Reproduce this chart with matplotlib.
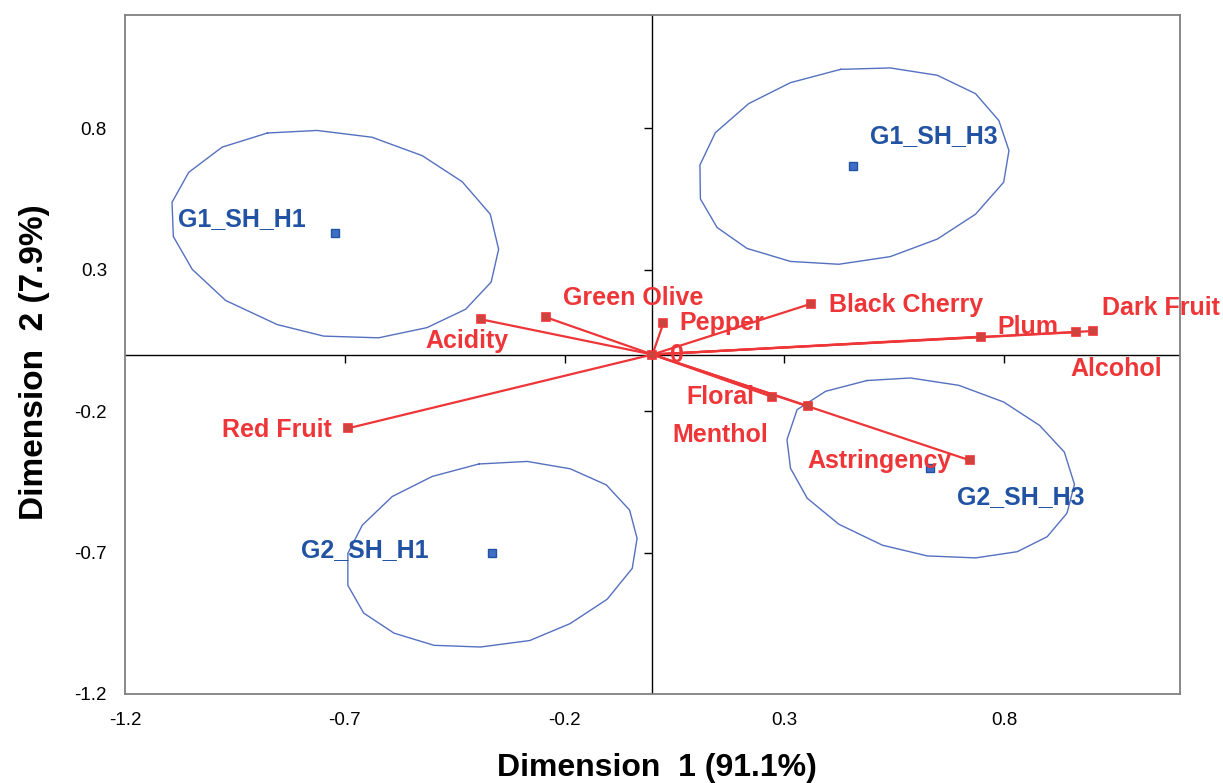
import numpy as np
import matplotlib
matplotlib.use("Agg")
import matplotlib.pyplot as plt

plt.rcParams['font.family'] = ['Liberation Sans', 'DejaVu Sans']

# attribute vectors (red)
attr_names = ["Acidity", "Green Olive", "Pepper", "Black Cherry", "Plum", "Alcohol",
              "Dark Fruit", "Floral", "Menthol", "Astringency", "Red Fruit", "0"]
attr_x = [-0.389, -0.243, 0.025, 0.360, 0.747, 0.964, 1.002, 0.273, 0.353, 0.722, -0.693, 0.0]
attr_y = [0.124, 0.132, 0.112, 0.179, 0.063, 0.079, 0.083, -0.150, -0.182, -0.374, -0.261, 0.0]
attr_lx = [-0.422, -0.045, 0.158, 0.576, 0.853, 1.055, 1.157, 0.155, 0.155, 0.517, -0.855, 0.055]
attr_ly = [0.046, 0.199, 0.113, 0.174, 0.096, -0.053, 0.163, -0.149, -0.284, -0.376, -0.266, 0.0]

# products (blue)
prod_names = ["G1_SH_H1", "G1_SH_H3", "G2_SH_H1", "G2_SH_H3"]
prod_x = [-0.722, 0.456, -0.366, 0.632]
prod_y = [0.430, 0.668, -0.702, -0.402]
prod_lx = [-0.934, 0.640, -0.654, 0.838]
prod_ly = [0.479, 0.773, -0.691, -0.504]

# confidence ellipse outlines (polygon vertices)
ell_g1h1_x = [-0.876, -0.763, -0.638, -0.524, -0.433, -0.369, -0.350, -0.367, -0.425, -0.513,
              -0.623, -0.748, -0.854, -0.971, -1.047, -1.090, -1.093, -1.055, -0.979]
ell_g1h1_y = [0.783, 0.792, 0.768, 0.703, 0.611, 0.496, 0.372, 0.256, 0.160, 0.095,
              0.059, 0.065, 0.106, 0.191, 0.301, 0.417, 0.538, 0.644, 0.733]
ell_g1h3_x = [0.428, 0.541, 0.648, 0.735, 0.788, 0.811, 0.799, 0.735, 0.648, 0.541,
              0.424, 0.314, 0.215, 0.147, 0.109, 0.108, 0.143, 0.219, 0.314]
ell_g1h3_y = [1.008, 1.013, 0.987, 0.922, 0.827, 0.721, 0.609, 0.496, 0.408, 0.346,
              0.319, 0.329, 0.375, 0.449, 0.550, 0.670, 0.784, 0.887, 0.961]
ell_g2h1_x = [-0.395, -0.285, -0.187, -0.105, -0.052, -0.035, -0.046, -0.103, -0.187, -0.279,
              -0.391, -0.497, -0.588, -0.657, -0.693, -0.693, -0.660, -0.592, -0.501]
ell_g2h1_y = [-0.387, -0.378, -0.404, -0.461, -0.550, -0.650, -0.756, -0.865, -0.951, -1.011,
              -1.034, -1.028, -0.985, -0.914, -0.816, -0.703, -0.603, -0.502, -0.431]
ell_g2h3_x = [0.488, 0.587, 0.697, 0.799, 0.881, 0.937, 0.960, 0.943, 0.898, 0.830,
              0.735, 0.625, 0.523, 0.424, 0.352, 0.314, 0.306, 0.329, 0.394]
ell_g2h3_y = [-0.092, -0.083, -0.109, -0.168, -0.251, -0.345, -0.459, -0.561, -0.644, -0.697,
              -0.719, -0.712, -0.674, -0.600, -0.508, -0.402, -0.301, -0.195, -0.130]

ticks = [-1.2, -0.7, -0.2, 0.3, 0.8]

RED = '#EE3538'
BLUE = '#2152A3'
ELL = '#5570C0'

fig = plt.figure(figsize=(12.23, 7.83), dpi=100)
ax = fig.add_axes([0.1022, 0.1137, 0.8626, 0.8671])
ax.set_xlim(-1.2, 1.2)
ax.set_ylim(-1.2, 1.2)

for sp in ax.spines.values():
    sp.set_color('#808080')
    sp.set_linewidth(1.3)

ax.set_xticks(ticks)
ax.set_yticks(ticks)
ax.set_xticklabels([f"{t:g}" for t in ticks])
ax.set_yticklabels([f"{t:g}" for t in ticks])
ax.tick_params(axis='both', length=0, labelsize=13.5)
ax.tick_params(axis='x', pad=13)
ax.tick_params(axis='y', pad=13)

# crossing axes at zero with their own ticks
ax.axhline(0, color='black', lw=1, zorder=1)
ax.axvline(0, color='black', lw=1, zorder=1)
ax.plot(ticks[1:], np.zeros(len(ticks) - 1), ls='none', marker=3, ms=6, mew=1, color='black', zorder=1)
ax.plot(np.zeros(len(ticks) - 1), ticks[1:], ls='none', marker=0, ms=6, mew=1, color='black', zorder=1)

# ellipses
for ex, ey in [(ell_g1h1_x, ell_g1h1_y), (ell_g1h3_x, ell_g1h3_y),
               (ell_g2h1_x, ell_g2h1_y), (ell_g2h3_x, ell_g2h3_y)]:
    ax.plot(ex + ex[:1], ey + ey[:1], color=ELL, lw=1.0, zorder=2)

# attribute vectors
for x, y in zip(attr_x, attr_y):
    ax.plot([0, x], [0, y], color=RED, lw=1.6, zorder=3)
ax.plot(attr_x, attr_y, ls='none', marker='s', ms=6, mfc='#C9463F', mec=RED, mew=1.2, zorder=4)
for name, lx, ly in zip(attr_names, attr_lx, attr_ly):
    ax.text(lx, ly, name, color=RED, fontsize=18, fontweight='bold',
            ha='center', va='center', zorder=5)

# products
ax.plot(prod_x, prod_y, ls='none', marker='s', ms=5.5, mfc='#3E6FC4', mec=BLUE, mew=1, zorder=4)
for name, lx, ly in zip(prod_names, prod_lx, prod_ly):
    ax.text(lx, ly, name, color=BLUE, fontsize=18, fontweight='bold',
            ha='center', va='center', zorder=5)

fig.text(0.537, 0.019, "Dimension  1 (91.1%)", fontsize=23, fontweight='bold',
         ha='center', va='center')
fig.text(0.0286, 0.5377, "Dimension  2 (7.9%)", fontsize=24, fontweight='bold',
         ha='center', va='center', rotation=90)

fig.savefig("out.png", dpi=100)
